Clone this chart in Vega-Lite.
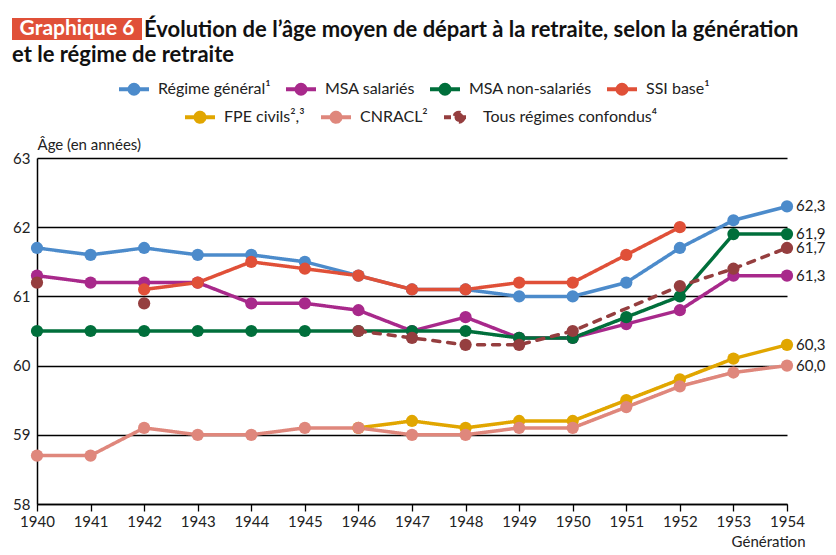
{
  "$schema": "https://vega.github.io/schema/vega-lite/v6.json",
  "width": 750,
  "height": 346,
  "autosize": {"type": "none"},
  "padding": {"left": 37, "top": 158, "right": 49, "bottom": 51},
  "background": "white",
  "config": {
    "font": "Lato",
    "view": {"stroke": null},
    "locale": {"number": {"decimal": ",", "thousands": " ", "grouping": [3], "currency": ["", " €"]}},
    "axis": {"labelFont": "Lato", "labelFontSize": 15, "labelColor": "#222", "titleFont": "Lato", "titleFontWeight": "normal", "titleFontSize": 15, "titleColor": "#222"},
    "legend": {"labelFont": "Lato", "labelFontSize": 16, "labelColor": "#222", "labelLimit": 300}
  },
  "title": {
    "text": ["\u200b\u2003\u2003\u2003\u2003\u2003\u2003\u2003\u2003Évolution de l’âge moyen de départ à la retraite, selon la génération", "et le régime de retraite"],
    "anchor": "start",
    "frame": "group",
    "dx": -25,
    "dy": 55,
    "offset": 0,
    "font": "Lato",
    "fontSize": 22,
    "fontWeight": "bold",
    "color": "#111",
    "lineHeight": 25
  },
  "data": {"values": [
    {"g": 1940, "s": "Régime général¹", "v": 61.7},
    {"g": 1941, "s": "Régime général¹", "v": 61.6},
    {"g": 1942, "s": "Régime général¹", "v": 61.7},
    {"g": 1943, "s": "Régime général¹", "v": 61.6},
    {"g": 1944, "s": "Régime général¹", "v": 61.6},
    {"g": 1945, "s": "Régime général¹", "v": 61.5},
    {"g": 1946, "s": "Régime général¹", "v": 61.3},
    {"g": 1947, "s": "Régime général¹", "v": 61.1},
    {"g": 1948, "s": "Régime général¹", "v": 61.1},
    {"g": 1949, "s": "Régime général¹", "v": 61.0},
    {"g": 1950, "s": "Régime général¹", "v": 61.0},
    {"g": 1951, "s": "Régime général¹", "v": 61.2},
    {"g": 1952, "s": "Régime général¹", "v": 61.7},
    {"g": 1953, "s": "Régime général¹", "v": 62.1},
    {"g": 1954, "s": "Régime général¹", "v": 62.3},
    {"g": 1940, "s": "MSA salariés", "v": 61.3},
    {"g": 1941, "s": "MSA salariés", "v": 61.2},
    {"g": 1942, "s": "MSA salariés", "v": 61.2},
    {"g": 1943, "s": "MSA salariés", "v": 61.2},
    {"g": 1944, "s": "MSA salariés", "v": 60.9},
    {"g": 1945, "s": "MSA salariés", "v": 60.9},
    {"g": 1946, "s": "MSA salariés", "v": 60.8},
    {"g": 1947, "s": "MSA salariés", "v": 60.5},
    {"g": 1948, "s": "MSA salariés", "v": 60.7},
    {"g": 1949, "s": "MSA salariés", "v": 60.4},
    {"g": 1950, "s": "MSA salariés", "v": 60.4},
    {"g": 1951, "s": "MSA salariés", "v": 60.6},
    {"g": 1952, "s": "MSA salariés", "v": 60.8},
    {"g": 1953, "s": "MSA salariés", "v": 61.3},
    {"g": 1954, "s": "MSA salariés", "v": 61.3},
    {"g": 1940, "s": "MSA non-salariés", "v": 60.5},
    {"g": 1941, "s": "MSA non-salariés", "v": 60.5},
    {"g": 1942, "s": "MSA non-salariés", "v": 60.5},
    {"g": 1943, "s": "MSA non-salariés", "v": 60.5},
    {"g": 1944, "s": "MSA non-salariés", "v": 60.5},
    {"g": 1945, "s": "MSA non-salariés", "v": 60.5},
    {"g": 1946, "s": "MSA non-salariés", "v": 60.5},
    {"g": 1947, "s": "MSA non-salariés", "v": 60.5},
    {"g": 1948, "s": "MSA non-salariés", "v": 60.5},
    {"g": 1949, "s": "MSA non-salariés", "v": 60.4},
    {"g": 1950, "s": "MSA non-salariés", "v": 60.4},
    {"g": 1951, "s": "MSA non-salariés", "v": 60.7},
    {"g": 1952, "s": "MSA non-salariés", "v": 61.0},
    {"g": 1953, "s": "MSA non-salariés", "v": 61.9},
    {"g": 1954, "s": "MSA non-salariés", "v": 61.9},
    {"g": 1942, "s": "SSI base¹", "v": 61.1},
    {"g": 1943, "s": "SSI base¹", "v": 61.2},
    {"g": 1944, "s": "SSI base¹", "v": 61.5},
    {"g": 1945, "s": "SSI base¹", "v": 61.4},
    {"g": 1946, "s": "SSI base¹", "v": 61.3},
    {"g": 1947, "s": "SSI base¹", "v": 61.1},
    {"g": 1948, "s": "SSI base¹", "v": 61.1},
    {"g": 1949, "s": "SSI base¹", "v": 61.2},
    {"g": 1950, "s": "SSI base¹", "v": 61.2},
    {"g": 1951, "s": "SSI base¹", "v": 61.6},
    {"g": 1952, "s": "SSI base¹", "v": 62.0},
    {"g": 1946, "s": "FPE civils²,³", "v": 59.1},
    {"g": 1947, "s": "FPE civils²,³", "v": 59.2},
    {"g": 1948, "s": "FPE civils²,³", "v": 59.1},
    {"g": 1949, "s": "FPE civils²,³", "v": 59.2},
    {"g": 1950, "s": "FPE civils²,³", "v": 59.2},
    {"g": 1951, "s": "FPE civils²,³", "v": 59.5},
    {"g": 1952, "s": "FPE civils²,³", "v": 59.8},
    {"g": 1953, "s": "FPE civils²,³", "v": 60.1},
    {"g": 1954, "s": "FPE civils²,³", "v": 60.3},
    {"g": 1940, "s": "CNRACL²", "v": 58.7},
    {"g": 1941, "s": "CNRACL²", "v": 58.7},
    {"g": 1942, "s": "CNRACL²", "v": 59.1},
    {"g": 1943, "s": "CNRACL²", "v": 59.0},
    {"g": 1944, "s": "CNRACL²", "v": 59.0},
    {"g": 1945, "s": "CNRACL²", "v": 59.1},
    {"g": 1946, "s": "CNRACL²", "v": 59.1},
    {"g": 1947, "s": "CNRACL²", "v": 59.0},
    {"g": 1948, "s": "CNRACL²", "v": 59.0},
    {"g": 1949, "s": "CNRACL²", "v": 59.1},
    {"g": 1950, "s": "CNRACL²", "v": 59.1},
    {"g": 1951, "s": "CNRACL²", "v": 59.4},
    {"g": 1952, "s": "CNRACL²", "v": 59.7},
    {"g": 1953, "s": "CNRACL²", "v": 59.9},
    {"g": 1954, "s": "CNRACL²", "v": 60.0},
    {"g": 1940, "s": "Tous régimes confondus⁴", "v": 61.2},
    {"g": 1941, "s": "Tous régimes confondus⁴", "v": null},
    {"g": 1942, "s": "Tous régimes confondus⁴", "v": 60.9},
    {"g": 1943, "s": "Tous régimes confondus⁴", "v": null},
    {"g": 1946, "s": "Tous régimes confondus⁴", "v": 60.5},
    {"g": 1947, "s": "Tous régimes confondus⁴", "v": 60.4},
    {"g": 1948, "s": "Tous régimes confondus⁴", "v": 60.3},
    {"g": 1949, "s": "Tous régimes confondus⁴", "v": 60.3},
    {"g": 1950, "s": "Tous régimes confondus⁴", "v": 60.5},
    {"g": 1952, "s": "Tous régimes confondus⁴", "v": 61.15},
    {"g": 1953, "s": "Tous régimes confondus⁴", "v": 61.4},
    {"g": 1954, "s": "Tous régimes confondus⁴", "v": 61.7}
  ]},
  "encoding": {
    "x": {"field": "g", "type": "quantitative", "scale": {"domain": [1940, 1954], "nice": false, "zero": false},
      "axis": {"values": [1940, 1941, 1942, 1943, 1944, 1945, 1946, 1947, 1948, 1949, 1950, 1951, 1952, 1953, 1954], "format": "d", "grid": false, "labelFlush": false, "labelOverlap": false, "labelBound": false, "domainColor": "#000", "domainWidth": 1.5, "tickColor": "#000", "tickSize": 7, "tickWidth": 1.3, "labelPadding": 3, "title": "Génération", "titleX": 768, "titleY": 37, "titleAlign": "right", "titleBaseline": "middle"}},
    "y": {"field": "v", "type": "quantitative", "scale": {"domain": [58, 63], "nice": false, "zero": false},
      "axis": {"values": [58, 59, 60, 61, 62, 63], "grid": true, "gridColor": "#000", "gridWidth": 1.3, "gridOpacity": 1, "domainColor": "#000", "domainWidth": 1.5, "ticks": false, "labelPadding": 7, "labelFlush": false, "title": "Âge (en années)", "titleAngle": 0, "titleAlign": "left", "titleX": 0, "titleY": -14, "titleBaseline": "middle"}}
  },
  "layer": [
    {
      "transform": [{"filter": {"field": "s", "oneOf": ["Régime général¹", "MSA salariés", "MSA non-salariés", "SSI base¹"]}}],
      "encoding": {
        "color": {"field": "s", "type": "nominal",
          "scale": {"domain": ["Régime général¹", "MSA salariés", "MSA non-salariés", "SSI base¹"], "range": ["#4C8BCB", "#A8298B", "#006F3B", "#E05038"]},
          "legend": {"title": null, "orient": "none", "legendX": 80, "legendY": -86, "direction": "horizontal", "symbolType": "M-1,0L1,0M0.133,0A0.133,0.133,0,1,1,-0.133,0A0.133,0.133,0,1,1,0.133,0M0.3,0A0.3,0.3,0,1,1,-0.3,0A0.3,0.3,0,1,1,0.3,0", "symbolSize": 900, "symbolStrokeWidth": 4, "labelOffset": 7, "columnPadding": 7}}
      },
      "layer": [
        {"mark": {"type": "line", "strokeWidth": 3.5, "strokeJoin": "round"},
          "encoding": {"strokeDash": {"datum": "Graphique 6", "scale": {"domain": ["Graphique 6"], "range": [[1, 0]]},
            "legend": {"title": null, "orient": "none", "legendX": 22.5, "legendY": -146.5, "symbolType": "M-10,0L10,0", "symbolSize": 169, "symbolStrokeWidth": 22, "symbolStrokeColor": "#E05038", "symbolFillColor": "#E05038", "symbolOpacity": 1, "labelColor": "#ffffff", "labelFont": "Lato", "labelFontSize": 21, "labelFontWeight": "bold", "labelAlign": "center", "labelOffset": -17.5}}}},
        {"mark": {"type": "circle", "size": 150, "opacity": 1}}
      ]
    },
    {
      "transform": [{"filter": {"field": "s", "oneOf": ["FPE civils²,³", "CNRACL²", "Tous régimes confondus⁴"]}}],
      "encoding": {
        "color": {"field": "s", "type": "nominal",
          "scale": {"domain": ["FPE civils²,³", "CNRACL²", "Tous régimes confondus⁴"], "range": ["#E1A600", "#DF877C", "#953E3F"]},
          "legend": {"title": null, "orient": "none", "legendX": 146, "legendY": -58, "direction": "horizontal", "symbolType": "M-1,0L1,0M0.133,0A0.133,0.133,0,1,1,-0.133,0A0.133,0.133,0,1,1,0.133,0M0.3,0A0.3,0.3,0,1,1,-0.3,0A0.3,0.3,0,1,1,0.3,0", "symbolSize": 900, "symbolStrokeWidth": 4, "labelOffset": 7, "columnPadding": 8}}
      },
      "layer": [
        {"mark": {"type": "line", "strokeWidth": 3.5, "strokeJoin": "round", "strokeCap": "round"},
          "encoding": {"strokeDash": {"field": "s", "type": "nominal", "scale": {"domain": ["FPE civils²,³", "CNRACL²", "Tous régimes confondus⁴"], "range": [[1, 0], [1, 0], [7, 8]]}, "legend": null}}},
        {"mark": {"type": "circle", "size": 150, "opacity": 1}}
      ]
    },
    {
      "transform": [{"filter": "datum.g == 1954 && isValid(datum.v)"}],
      "mark": {"type": "text", "align": "left", "baseline": "middle", "dx": 9, "fontSize": 15, "font": "Lato", "color": "#222"},
      "encoding": {
        "text": {"field": "v", "type": "quantitative", "format": ".1f"}
      }
    }
  ],
  "resolve": {"scale": {"color": "independent", "strokeDash": "independent"}, "legend": {"color": "independent", "strokeDash": "independent"}}
}
